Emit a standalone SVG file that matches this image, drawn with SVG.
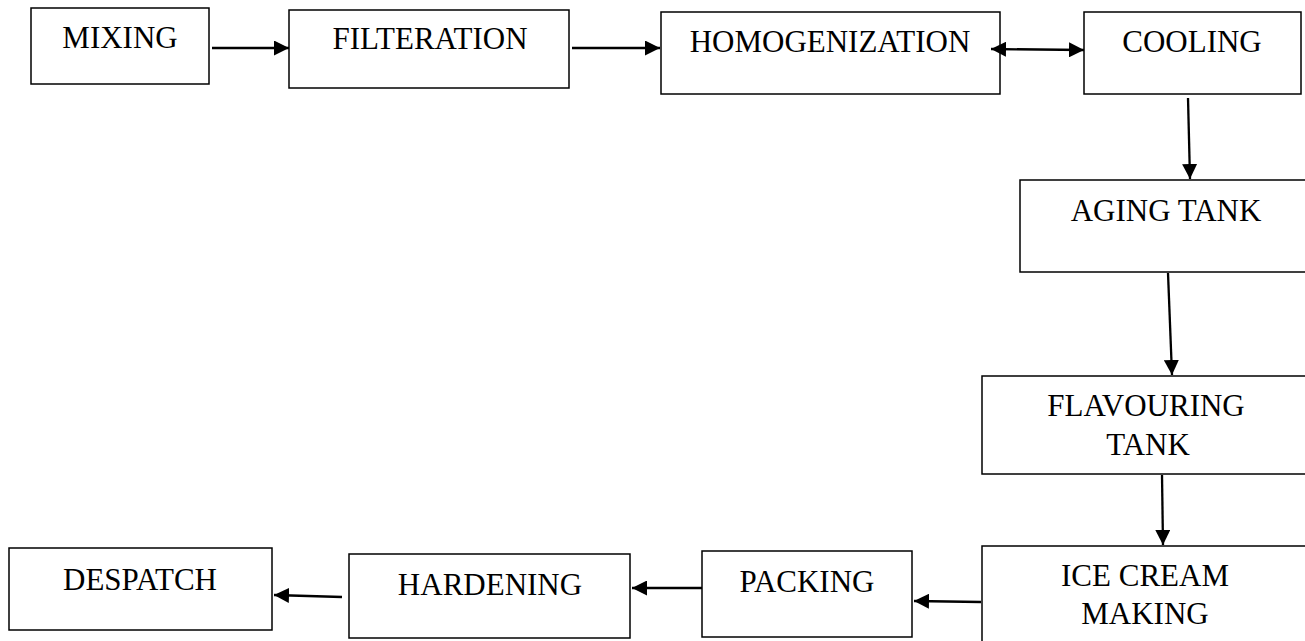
<svg xmlns="http://www.w3.org/2000/svg" width="1305" height="641" viewBox="0 0 1305 641">
<style>
.box{fill:#fff;stroke:#000;stroke-width:1.5}
.lbl{font-family:"Liberation Serif","Times New Roman",serif;font-size:31px;fill:#000;text-anchor:middle}
.conn{stroke:#000;stroke-width:2.3;fill:none;marker-end:url(#ah)}
</style>
<defs>
<marker id="ah" markerUnits="userSpaceOnUse" markerWidth="16" markerHeight="15" refX="15" refY="7.5" orient="auto-start-reverse">
<path d="M0,0 L15,7.5 L0,15 z" fill="#000"/>
</marker>
</defs>
<rect width="1305" height="641" fill="#fff"/>
<g id="mixing"><rect class="box" x="31" y="8" width="178" height="76"/><text class="lbl" x="120" y="48">MIXING</text></g>
<g id="filteration"><rect class="box" x="289" y="10" width="280" height="78"/><text class="lbl" x="430" y="49">FILTERATION</text></g>
<g id="homogenization"><rect class="box" x="661" y="12" width="339" height="82"/><text class="lbl" x="830" y="52">HOMOGENIZATION</text></g>
<g id="cooling"><rect class="box" x="1084" y="12" width="217" height="82"/><text class="lbl" x="1192" y="52">COOLING</text></g>
<g id="aging-tank"><rect class="box" x="1020" y="180" width="300" height="92"/><text class="lbl" x="1166" y="221">AGING TANK</text></g>
<g id="flavouring-tank"><rect class="box" x="982" y="376" width="340" height="98"/><text class="lbl" x="1146" y="416">FLAVOURING</text><text class="lbl" x="1148" y="455">TANK</text></g>
<g id="ice-cream-making"><rect class="box" x="982" y="546" width="340" height="110"/><text class="lbl" x="1145" y="586">ICE CREAM</text><text class="lbl" x="1145" y="624">MAKING</text></g>
<g id="packing"><rect class="box" x="702" y="551" width="210" height="86"/><text class="lbl" x="807" y="592">PACKING</text></g>
<g id="hardening"><rect class="box" x="349" y="554" width="281" height="84"/><text class="lbl" x="490" y="595">HARDENING</text></g>
<g id="despatch"><rect class="box" x="9" y="548" width="263" height="82"/><text class="lbl" x="140" y="590">DESPATCH</text></g>
<g id="connectors">
<line class="conn" x1="212" y1="48" x2="289" y2="48"/>
<line class="conn" x1="572" y1="48" x2="660" y2="48"/>
<line class="conn" x1="991" y1="49" x2="1084" y2="50" style="marker-start:url(#ah)"/>
<line class="conn" x1="1188" y1="98" x2="1190" y2="179"/>
<line class="conn" x1="1168" y1="273" x2="1172" y2="375"/>
<line class="conn" x1="1162" y1="475" x2="1163" y2="545"/>
<line class="conn" x1="981" y1="602" x2="914" y2="601"/>
<line class="conn" x1="702" y1="588" x2="632" y2="588"/>
<line class="conn" x1="342" y1="597" x2="274" y2="595"/>
</g>
</svg>
